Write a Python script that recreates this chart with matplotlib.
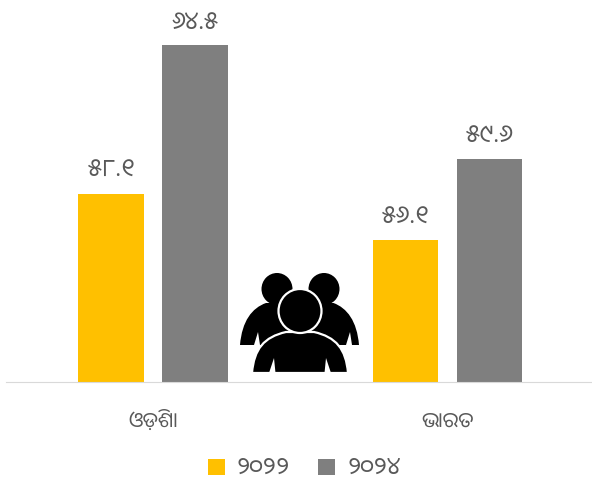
import matplotlib.pyplot as plt
import numpy as np
from matplotlib.patches import Ellipse, PathPatch, Polygon
from matplotlib.path import Path

plt.rcParams["font.family"] = ["Noto Sans Oriya UI", "Noto Sans Oriya", "DejaVu Sans"]

categories = ["ଓ\u0b5cିଶା", "ଭାରତ"]
series_names = ["୨୦୨୨", "୨୦୨୪"]
values_2022 = [58.1, 56.1]
values_2024 = [64.5, 59.6]
labels_2022 = ["୫୮.୧", "୫୬.୧"]
labels_2024 = ["୬୪.୫", "୫୯.୬"]

ORANGE = "#FFC000"
GREY = "#7F7F7F"
TEXT = "#595959"
W, H = 592, 481

fig = plt.figure(figsize=(W / 100, H / 100), dpi=100)
ax = fig.add_axes([6 / W, (H - 382.5) / H, 586 / W, 382.5 / H])

x = np.arange(len(categories))
offset = 0.1426
width = 0.2224
bars_a = ax.bar(x - offset, values_2022, width, color=ORANGE, label=series_names[0])
bars_b = ax.bar(x + offset, values_2024, width, color=GREY, label=series_names[1])
ax.bar_label(bars_a, labels=labels_2022, padding=7, fontsize=17.5, color=TEXT)
ax.bar_label(bars_b, labels=labels_2024, padding=7, fontsize=17.5, color=TEXT)

ax.set_xlim(-0.5, 1.49)
ax.set_ylim(50, 66.5)
ax.set_yticks([])
ax.set_xticks(x, categories, fontsize=15, color=TEXT)
ax.tick_params(axis="x", length=0, pad=22)
for side in ["top", "left", "right"]:
    ax.spines[side].set_visible(False)
ax.spines["bottom"].set_color("#D9D9D9")
ax.patch.set_alpha(0)

fig.legend(loc="lower center", bbox_to_anchor=(0.5135, -0.037), ncol=2, frameon=False,
           fontsize=17, labelcolor=TEXT, handlelength=0.72, handleheight=0.72,
           handletextpad=0.5, columnspacing=1.2, borderpad=0.2)

# people icon, drawn in pixel coords of the picture
icon = fig.add_axes([0, 0, 1, 1])
icon.set_xlim(0, W)
icon.set_ylim(H, 0)
icon.axis("off")
icon.patch.set_alpha(0)


def body(x0, x1, top, bottom):
    xm = (x0 + x1) / 2
    verts = [(x0, bottom), (x0 + 2, bottom - 24), (x0 + 12, top + 5), (xm - 14, top),
             (xm, top), (xm, top), (xm + 14, top),
             (x1 - 12, top + 5), (x1 - 2, bottom - 24), (x1, bottom), (x0, bottom)]
    codes = [Path.MOVETO, Path.CURVE4, Path.CURVE4, Path.CURVE4,
             Path.LINETO, Path.LINETO, Path.LINETO,
             Path.CURVE4, Path.CURVE4, Path.CURVE4, Path.CLOSEPOLY]
    return Path(verts, codes)


for hx, bx0, bx1, notch in [(277, 240, 320, 254), (324, 280, 359, 346)]:
    icon.add_patch(PathPatch(body(bx0, bx1, 304, 346), fc="black", ec="none"))
    icon.add_patch(Ellipse((hx, 290), 31, 32, fc="black", ec="none"))
    icon.add_patch(Polygon([(notch, 346), (notch + 4, 333), (notch + 6, 346)], fc="white", ec="none"))

icon.add_patch(PathPatch(body(252, 348, 333, 374), fc="black", ec="white", lw=1.6))
icon.add_patch(Ellipse((300, 312), 43, 44, fc="black", ec="white", lw=1.6))
icon.add_patch(Polygon([(269, 374), (274, 359), (275.5, 374)], fc="white", ec="none"))
icon.add_patch(Polygon([(331, 374), (326, 359), (324.5, 374)], fc="white", ec="none"))

fig.savefig("out.png", dpi=100)
